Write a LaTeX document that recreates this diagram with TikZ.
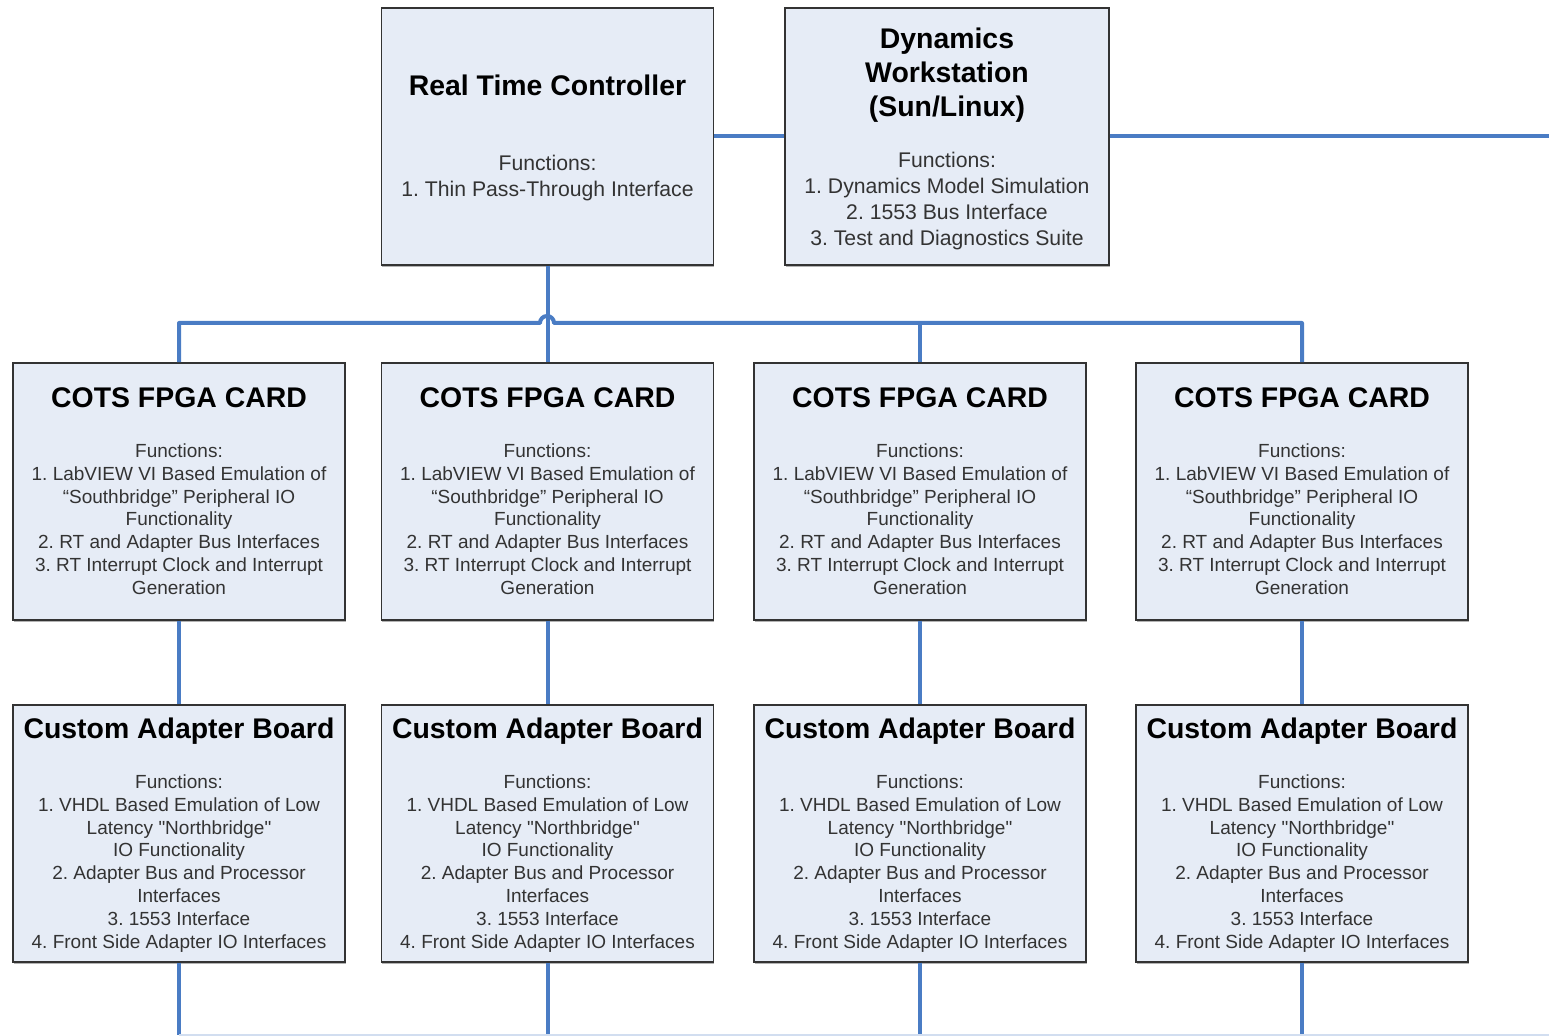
\documentclass[tikz,border=0pt]{standalone}
\usepackage{fontspec}
\setmainfont{Liberation Sans}
\usetikzlibrary{shadows}
\definecolor{boxfill}{HTML}{E6ECF6}
\definecolor{busblue}{HTML}{4A7CC4}
\definecolor{bodygray}{HTML}{333333}
\frenchspacing
\begin{document}
\begin{tikzpicture}[x=0.5pt,y=-0.5pt]
\tikzset{
    bloco/.style={rectangle, draw=black!80, line width=0.75pt, fill=boxfill,
                  minimum width=166pt, minimum height=128.5pt, inner sep=0pt,
                  drop shadow={shadow xshift=0.3pt, shadow yshift=-1pt, opacity=0.6}},
    titulo/.style={font=\fontsize{14.2}{17}\selectfont\bfseries, align=center, inner sep=0pt},
    corpo/.style={font=\fontsize{9.5}{11.4}\selectfont, text=bodygray, anchor=north,
                  align=center, inner sep=0pt},
    corpogrande/.style={corpo, font=\fontsize{10.6}{13}\selectfont},
    ligacao/.style={line width=2pt, busblue, line join=round}
}
\useasboundingbox (0,0) rectangle (1549,1036);
% top row
\node[bloco] (rtc) at (547.5,136.5) {};
\node[bloco, minimum width=162pt] (dw) at (947,136.5) {};
\node[titulo, anchor=base] (rtct) at (547.5,96) {Real Time Controller};
\node[corpogrande] (rtcb) at (547.5,154.4) {Functions:\\1. Thin Pass-Through Interface};
\node[titulo, anchor=north] (dwt) at (947,27.7) {Dynamics\\Workstation\\(Sun/Linux)};
\node[corpogrande] (dwb) at (947,151.4) {Functions:\\1. Dynamics Model Simulation\\
    2. 1553 Bus Interface\\3. Test and Diagnostics Suite};
% card and adapter rows
\foreach \x/\n in {179/1, 547.5/2, 920/3, 1302/4} {
    \node[bloco] (c\n) at (\x,491.5) {};
    \node[titulo, anchor=base] (ct\n) at (\x,408) {COTS FPGA CARD};
    \node[corpo] (cb\n) at (\x,443.4) {Functions:\\1. LabVIEW VI Based Emulation of\\
        “Southbridge” Peripheral IO\\Functionality\\2. RT and Adapter Bus Interfaces\\
        3. RT Interrupt Clock and Interrupt\\Generation};
    \node[bloco] (a\n) at (\x,833.5) {};
    \node[titulo, anchor=base] (at\n) at (\x,739) {Custom Adapter Board};
    \node[corpo] (ab\n) at (\x,774.4) {Functions:\\1. VHDL Based Emulation of Low\\
        Latency \textquotedbl Northbridge\textquotedbl\\IO Functionality\\
        2. Adapter Bus and Processor\\Interfaces\\3. 1553 Interface\\
        4. Front Side Adapter IO Interfaces};
}
% connectors
\coordinate (dir) at (1549,136.5);
\coordinate (salto) at (540,323);
\coordinate (fundo) at (1549,1035);
\draw[ligacao] (rtc.east) -- (dw.west);
\draw[ligacao] (dw.east) -- (dir);
\draw[ligacao] (rtc.south) -- (c2.north);
\draw[ligacao] (c1.north) |- (salto) arc[start angle=180, end angle=0, radius=3.5pt]
    -- (c4.north |- salto) -- (c4.north);
\draw[ligacao] (c3.north) -- (c3.north |- salto);
\foreach \n in {1,...,4} {
    \draw[ligacao] (c\n.south) -- (a\n.north);
    \draw[ligacao] (a\n.south) -- (a\n.south |- fundo);
}
\draw[busblue!25, line width=1pt] (a1.south |- fundo) -- (fundo);
\end{tikzpicture}
\end{document}
